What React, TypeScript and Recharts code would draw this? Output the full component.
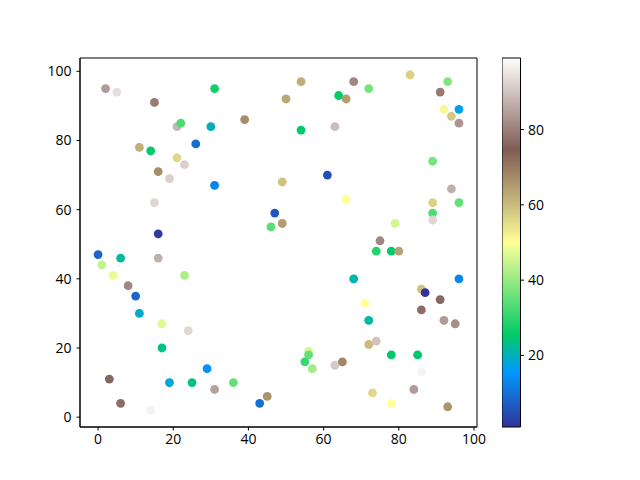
import React from 'react';
import {
  ScatterChart, Scatter, XAxis, YAxis, ReferenceArea
} from 'recharts';

// point positions and colour values
const xs = [2, 5, 15, 21, 22, 31, 30, 39, 11, 14, 26, 21, 23, 16, 19, 31, 15, 16, 0, 1, 6, 4, 16, 8, 10, 11, 23, 17, 24, 17, 3, 6, 14, 19, 25, 29, 31, 36, 43, 45,
  54, 50, 68, 72, 64, 66, 83, 93, 91, 92, 96, 94, 96, 54, 63, 89, 61, 49, 66, 94, 89, 96, 89, 89, 47, 46, 49, 79, 75, 74, 78, 80, 68, 96, 86, 87, 91, 71, 86, 72, 92, 95, 74, 72, 56, 56, 55, 57, 63, 65, 78, 85, 86, 84, 73, 78, 93];
const ys = [95, 94, 91, 84, 85, 95, 84, 86, 78, 77, 79, 75, 73, 71, 69, 67, 62, 53, 47, 44, 46, 41, 46, 38, 35, 30, 41, 27, 25, 20, 11, 4, 2, 10, 10, 14, 8, 10, 4, 6,
  97, 92, 97, 95, 93, 92, 99, 97, 94, 89, 89, 87, 85, 83, 84, 74, 70, 68, 63, 66, 62, 62, 59, 57, 59, 55, 56, 56, 51, 48, 48, 48, 40, 40, 37, 36, 34, 33, 31, 28, 28, 27, 22, 21, 19, 18, 16, 14, 15, 16, 18, 18, 13, 8, 7, 4, 3];
const cs = [84, 94, 79, 88, 33, 27, 20, 67, 62, 25, 9, 56, 92, 67, 92, 13, 93, 2, 8, 44, 22, 48, 87, 81, 8, 19, 42, 47, 93, 24, 76, 77, 97, 18, 24, 15, 85, 35, 10, 66,
  62, 63, 81, 37, 26, 65, 57, 38, 79, 51, 17, 58, 83, 25, 89, 37, 5, 59, 50, 87, 57, 35, 33, 93, 6, 34, 65, 46, 81, 29, 25, 64, 21, 13, 59, 1, 76, 50, 77, 22, 84, 82, 90, 60, 46, 35, 31, 41, 91, 68, 25, 25, 97, 84, 56, 50, 66];

// colour limits shown by the colorbar
const cLimits = [1, 99];

const xTicks = [0, 20, 40, 60, 80, 100];
const yTicks = [0, 20, 40, 60, 80, 100];
const cTicks = [20, 40, 60, 80];

// matplotlib "terrain"
const TERRAIN: [number, number[]][] = [
  [0, [0.2, 0.2, 0.6]],
  [0.15, [0, 0.6, 1]],
  [0.25, [0, 0.8, 0.4]],
  [0.5, [1, 1, 0.6]],
  [0.75, [0.5, 0.36, 0.33]],
  [1, [1, 1, 1]],
];

const toHex = (rgb: number[]) =>
  '#' + rgb.map(v => Math.round(v * 255).toString(16).padStart(2, '0')).join('');

const terrain = (t: number) => {
  const u = Math.max(0, Math.min(1, t));
  for (let i = 1; i < TERRAIN.length; i++) {
    const [p0, c0] = TERRAIN[i - 1];
    const [p1, c1] = TERRAIN[i];
    if (u <= p1) {
      const f = (u - p0) / (p1 - p0);
      return toHex(c0.map((v, k) => v + (c1[k] - v) * f));
    }
  }
  return '#ffffff';
};

const [cMin, cMax] = cLimits;

const points = xs.map((x, i) => ({
  x,
  y: ys[i],
  fill: terrain((cs[i] - cMin) / (cMax - cMin)),
}));

// colour values placed on the colorbar axis (not drawn, only to bind the scale)
const barPoints = cs.map(c => ({ x: 0.5, y: c }));

const font = { fontSize: 14, fill: '#000', fontFamily: 'Open Sans, DejaVu Sans, sans-serif' };

const Dot = (p: any) => <circle cx={p.cx} cy={p.cy} r={4.4} fill={p.payload.fill} />;
const NoDot = () => <g />;

const App: React.FC = () => (
  <div style={{ position: 'fixed', left: 0, top: 0, width: 640, height: 480, background: '#fff' }}>
    <div style={{ position: 'absolute', left: 0, top: 0 }}>
      <ScatterChart width={640} height={480} margin={{ top: 58, right: 163, bottom: 0, left: 0 }}>
        <XAxis
          type="number" dataKey="x" domain={[-4.8, 100.8]} ticks={xTicks} height={53}
          tick={font} tickSize={3.5} tickMargin={4} stroke="#000" allowDataOverflow
        />
        <YAxis
          type="number" dataKey="y" domain={[-2.85, 103.85]} ticks={yTicks} width={80}
          tick={font} tickSize={3.5} tickMargin={5} stroke="#000" allowDataOverflow
        />
        <ReferenceArea x1={-4.8} x2={100.8} y1={-2.85} y2={103.85} fill="none" stroke="#000" strokeWidth={1} />
        <Scatter data={points} shape={Dot} isAnimationActive={false} />
      </ScatterChart>
    </div>
    <div style={{ position: 'absolute', left: 502, top: 0 }}>
      <ScatterChart width={70} height={480} margin={{ top: 58, right: 0, bottom: 0, left: 0 }}>
        <defs>
          <linearGradient id="terrainGrad" x1="0" y1="1" x2="0" y2="0">
            {TERRAIN.map(([o, c]) => (
              <stop key={o} offset={`${o * 100}%`} stopColor={toHex(c)} />
            ))}
          </linearGradient>
        </defs>
        <XAxis type="number" dataKey="x" domain={[0, 1]} height={53} tick={false} tickLine={false} axisLine={false} />
        <YAxis
          orientation="right" type="number" dataKey="y" domain={[cMin, cMax]} ticks={cTicks} width={51.5}
          tick={font} tickSize={3.5} tickMargin={4} stroke="#000" axisLine={false} allowDataOverflow
        />
        <ReferenceArea x1={0} x2={1} y1={cMin} y2={cMax} fill="url(#terrainGrad)" fillOpacity={1} stroke="#000" strokeWidth={1} />
        <Scatter data={barPoints} shape={NoDot} isAnimationActive={false} />
      </ScatterChart>
    </div>
  </div>
);

export default App;
